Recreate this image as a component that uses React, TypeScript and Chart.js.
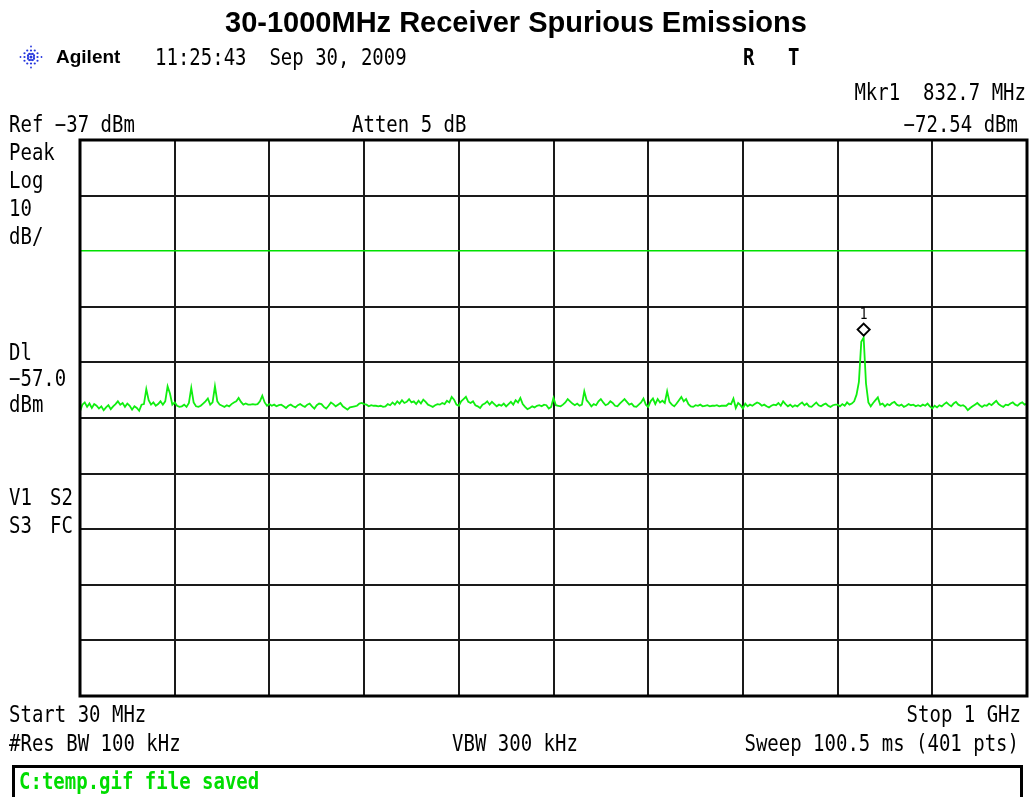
import React, { useEffect, useRef } from "react";
import { Chart, registerables } from "chart.js";

Chart.register(...registerables);

// ---- data ----
const START_MHZ = 30;
const STOP_MHZ = 1000;
const POINTS = 401;
const REF_LEVEL = -37;
const BOTTOM_LEVEL = -137;
const DISPLAY_LINE = -57;
const MARKER_FREQ = 832.7;
const MARKER_LEVEL = -72.54;

const X_TICKS = [30, 127, 224, 321, 418, 515, 612, 709, 806, 903, 1000];
const Y_TICKS = [-137, -127, -117, -107, -97, -87, -77, -67, -57, -47, -37];

const TRACE_DBM = [
  // division 1
  -85.8, -84.6, -84.2, -85.0, -84.4, -85.2, -84.5, -84.8, -85.3, -84.9,
  -85.6, -85.1, -84.7, -85.4, -84.9, -84.5, -84.0, -84.6, -84.3, -85.0,
  -84.4, -84.8, -85.5, -84.9, -85.2, -85.7, -84.6, -84.5, -81.8, -83.8,
  -84.6, -84.2, -84.8, -84.5, -84.0, -84.6, -84.0, -81.3, -82.6, -84.6,
  // division 2
  -84.2, -84.8, -85.0, -84.9, -84.6, -85.0, -84.3, -81.6, -84.2, -84.9,
  -85.0, -84.8, -84.4, -84.0, -83.5, -84.6, -84.2, -81.3, -84.0, -84.6,
  -84.8, -85.0, -84.7, -84.9, -84.5, -84.2, -84.0, -83.4, -84.1, -84.6,
  -84.4, -84.6, -84.6, -84.5, -84.6, -84.5, -84.0, -83.0, -84.2, -84.8,
  // division 3
  -84.5, -84.8, -84.6, -84.9, -84.7, -84.6, -84.9, -85.2, -84.8, -84.6,
  -84.9, -85.1, -84.7, -84.5, -84.8, -85.0, -84.6, -84.4, -84.9, -85.3,
  -84.7, -84.4, -84.5, -85.0, -85.3, -84.8, -84.2, -84.5, -84.9, -84.6,
  -84.3, -84.9, -85.2, -85.5, -85.1, -85.0, -84.9, -84.8, -84.4, -84.3,
  // division 4
  -84.5, -84.6, -84.9, -84.7, -84.8, -84.8, -84.9, -84.8, -85.0, -84.9,
  -84.5, -84.7, -84.2, -84.6, -84.0, -84.4, -83.8, -84.3, -84.1, -83.6,
  -84.2, -84.0, -84.5, -83.9, -84.4, -83.7, -84.1, -84.6, -84.8, -85.0,
  -84.7, -84.5, -84.6, -84.3, -84.5, -83.9, -84.2, -83.2, -83.7, -84.6,
  // division 5
  -84.8, -84.0, -83.6, -83.2, -84.1, -84.3, -84.0, -84.7, -84.9, -85.2,
  -84.6, -84.4, -84.0, -84.6, -84.1, -84.5, -84.9, -84.6, -84.8, -84.4,
  -84.9, -84.5, -84.1, -84.6, -83.8, -84.2, -83.4, -84.5, -85.0, -85.4,
  -85.2, -84.9, -85.1, -84.8, -84.7, -84.9, -84.6, -84.7, -85.3, -85.0,
  // division 6
  -83.4, -84.7, -84.8, -84.9, -84.6, -84.2, -83.6, -84.0, -84.4, -84.7,
  -84.4, -84.8, -84.6, -82.2, -83.8, -84.3, -84.9, -84.5, -84.7, -84.0,
  -83.6, -84.2, -84.7, -84.5, -84.0, -84.3, -84.8, -84.9, -84.4, -84.0,
  -83.6, -84.1, -84.6, -84.4, -84.9, -85.0, -84.6, -84.2, -83.5, -84.6,
  // division 7
  -85.0, -84.0, -83.5, -84.5, -83.6, -84.2, -83.9, -84.3, -82.2, -84.1,
  -84.6, -84.9, -84.4, -83.8, -83.2, -84.0, -83.6, -84.5, -84.9, -85.0,
  -84.7, -84.8, -84.6, -84.9, -84.8, -84.7, -84.9, -84.8, -84.8, -84.7,
  -84.9, -84.8, -84.8, -84.8, -84.4, -84.5, -83.5, -85.2, -84.3, -84.7,
  // division 8
  -85.3, -84.4, -84.9, -84.6, -84.8, -84.5, -84.2, -84.4, -84.8, -84.6,
  -84.9, -85.1, -84.8, -84.6, -84.7, -84.3, -84.8, -84.0, -84.5, -84.9,
  -84.6, -85.0, -84.7, -84.9, -84.5, -84.2, -84.7, -84.4, -84.9, -85.0,
  -84.6, -84.2, -84.7, -84.9, -84.6, -84.4, -84.8, -85.0, -84.7, -84.6,
  // division 9
  -84.6, -84.9, -84.5, -84.8, -84.2, -84.6, -84.4, -84.0, -82.8, -80.5,
  -73.3, -72.54, -80.8, -84.2, -84.9, -84.3, -83.8, -83.3, -84.6, -84.4,
  -84.9, -84.5, -84.7, -84.3, -84.1, -84.6, -84.8, -84.6, -85.0, -84.8,
  -84.5, -84.7, -84.6, -84.9, -84.7, -84.9, -84.6, -84.8, -84.4, -84.9,
  // division 10
  -85.3, -84.8, -85.1, -84.7, -84.9, -84.5, -84.2, -84.6, -84.9, -84.4,
  -84.1, -84.6, -84.8, -84.7, -85.0, -85.6, -85.2, -84.9, -84.6, -84.3,
  -84.7, -85.0, -84.7, -84.8, -84.4, -84.7, -84.3, -83.9, -84.5, -84.8,
  -85.0, -84.6, -84.7, -84.4, -84.2, -84.6, -84.8, -84.4, -84.2, -84.6,
  -84.4,
];

// sweep frequency grid (401 equally spaced points from start to stop)
const FREQS_MHZ = TRACE_DBM.map(
  (_, i) => START_MHZ + (i * (STOP_MHZ - START_MHZ)) / (POINTS - 1)
);

const TITLE = "30-1000MHz Receiver Spurious Emissions";
const BRAND = "Agilent";
const TIMESTAMP = "11:25:43  Sep 30, 2009";
const MARKER_LINE1 = "Mkr1  832.7 MHz";
const MARKER_LINE2 = "\u221272.54 dBm";
const REF_TEXT = "Ref \u221237 dBm";
const ATTEN_TEXT = "Atten 5 dB";
const LEFT_TOP = ["Peak", "Log", "10", "dB/"];
const LEFT_DL = ["Dl", "\u221257.0", "dBm"];
const LEFT_MID = [["V1", "S2"], ["S3", "FC"]];
const START_TEXT = "Start 30 MHz";
const STOP_TEXT = "Stop 1 GHz";
const RBW_TEXT = "#Res BW 100 kHz";
const VBW_TEXT = "VBW 300 kHz";
const SWEEP_TEXT = "Sweep 100.5 ms (401 pts)";
const STATUS_TEXT = "C:temp.gif file saved";

const MONO = '"DejaVu Sans Mono", "Liberation Mono", monospace';
const SANS = '"Liberation Sans", Arial, sans-serif';
const GREEN = "#10ee10";
const STRETCH = 1.17;

function txt(ctx: CanvasRenderingContext2D, t: string, x: number, y: number) {
  ctx.save();
  ctx.translate(x, y);
  ctx.scale(1, STRETCH);
  ctx.fillText(t, 0, 0);
  ctx.restore();
}

const overlayPlugin = {
  id: "saOverlay",
  beforeDraw(chart: any) {
    const { ctx, width, height } = chart;
    ctx.save();
    ctx.fillStyle = "#fff";
    ctx.fillRect(0, 0, width, height);
    ctx.restore();
  },
  afterDraw(chart: any) {
    const { ctx, chartArea: a, scales } = chart;
    ctx.save();
    ctx.textBaseline = "alphabetic";

    // frame around graticule
    ctx.strokeStyle = "#000";
    ctx.lineWidth = 3;
    ctx.strokeRect(a.left, a.top, a.right - a.left, a.bottom - a.top);

    // marker diamond and label
    const mx = scales.x.getPixelForValue(MARKER_FREQ);
    const my = scales.y.getPixelForValue(MARKER_LEVEL);
    const cy = my - 8;
    const h = 6;
    ctx.beginPath();
    ctx.moveTo(mx, cy - h);
    ctx.lineTo(mx + h, cy);
    ctx.lineTo(mx, cy + h);
    ctx.lineTo(mx - h, cy);
    ctx.closePath();
    ctx.fillStyle = "#fff";
    ctx.fill();
    ctx.lineWidth = 2;
    ctx.strokeStyle = "#000";
    ctx.stroke();
    ctx.fillStyle = "#000";
    ctx.font = `13px ${MONO}`;
    ctx.textAlign = "center";
    txt(ctx, "1", mx, cy - 11);

    // title
    ctx.font = `bold 29px ${SANS}`;
    ctx.textAlign = "center";
    ctx.fillText(TITLE, 516, 32);

    // agilent logo (starburst of dots)
    ctx.fillStyle = "#2233dd";
    const lx = 31;
    const ly = 57;
    for (let k = 0; k < 12; k++) {
      const ang = (k * Math.PI) / 6;
      const rays = k % 3 === 0 ? [3, 6.5, 10.5] : [3.5, 7.5];
      for (const r of rays) {
        ctx.beginPath();
        ctx.arc(lx + Math.cos(ang) * r, ly + Math.sin(ang) * r, r > 9 ? 0.9 : 1.1, 0, Math.PI * 2);
        ctx.fill();
      }
    }
    ctx.beginPath();
    ctx.arc(lx, ly, 1.5, 0, Math.PI * 2);
    ctx.fill();

    ctx.fillStyle = "#000";
    ctx.textAlign = "left";
    ctx.font = `bold 19px ${SANS}`;
    ctx.fillText(BRAND, 56, 63);

    ctx.font = `19px ${MONO}`;
    txt(ctx, TIMESTAMP, 155, 65);

    ctx.font = `bold 19px ${MONO}`;
    txt(ctx, "R", 743, 65);
    txt(ctx, "T", 788, 65);

    ctx.font = `19px ${MONO}`;
    ctx.textAlign = "right";
    txt(ctx, MARKER_LINE1, 1026, 100);
    txt(ctx, MARKER_LINE2, 1018, 132);
    ctx.textAlign = "left";
    txt(ctx, REF_TEXT, 9, 132);
    txt(ctx, ATTEN_TEXT, 352, 132);

    LEFT_TOP.forEach((t, i) => txt(ctx, t, 9, 160 + i * 28));
    LEFT_DL.forEach((t, i) => txt(ctx, t, 9, 360 + i * 26));
    LEFT_MID.forEach((row, i) => {
      txt(ctx, row[0], 9, 505 + i * 28);
      txt(ctx, row[1], 50, 505 + i * 28);
    });

    txt(ctx, START_TEXT, 9, 722);
    txt(ctx, RBW_TEXT, 9, 751);
    txt(ctx, VBW_TEXT, 452, 751);
    ctx.textAlign = "right";
    txt(ctx, STOP_TEXT, 1021, 722);
    txt(ctx, SWEEP_TEXT, 1019, 751);

    // status box
    ctx.lineWidth = 3;
    ctx.strokeStyle = "#000";
    ctx.strokeRect(13.5, 766.5, 1008, 40);
    ctx.textAlign = "left";
    ctx.fillStyle = "#00dd00";
    ctx.font = `bold 19px ${MONO}`;
    txt(ctx, STATUS_TEXT, 19, 789);

    ctx.restore();
  },
};

export default function App() {
  const canvasRef = useRef<HTMLCanvasElement | null>(null);

  useEffect(() => {
    const canvas = canvasRef.current;
    if (!canvas) return;
    const chart = new Chart(canvas, {
      type: "line",
      data: {
        datasets: [
          {
            label: "Trace 1",
            data: TRACE_DBM.map((v, i) => ({ x: FREQS_MHZ[i], y: v })),
            borderColor: GREEN,
            borderWidth: 1.8,
            pointRadius: 0,
            tension: 0,
            fill: false,
          },
        ],
      },
      options: {
        animation: false,
        responsive: true,
        maintainAspectRatio: false,
        layout: { padding: { left: 80, top: 140, right: 2, bottom: 101 } },
        plugins: {
          legend: { display: false },
          tooltip: { enabled: false },
          title: { display: false },
        },
        scales: {
          x: {
            type: "linear",
            min: START_MHZ,
            max: STOP_MHZ,
            afterBuildTicks: (s: any) => {
              s.ticks = X_TICKS.map((v) => ({ value: v }));
            },
            ticks: { display: false },
            grid: { color: "#1a1a1a", lineWidth: 2, drawTicks: false },
            border: { display: false },
          },
          y: {
            type: "linear",
            min: BOTTOM_LEVEL,
            max: REF_LEVEL,
            afterBuildTicks: (s: any) => {
              s.ticks = Y_TICKS.map((v) => ({ value: v }));
            },
            ticks: { display: false },
            grid: {
              color: (c: any) => (c.tick && c.tick.value === DISPLAY_LINE ? "#00e000" : "#1a1a1a"),
              lineWidth: (c: any) => (c.tick && c.tick.value === DISPLAY_LINE ? 1.5 : 2),
              drawTicks: false,
            },
            border: { display: false },
          },
        },
      },
      plugins: [overlayPlugin],
    });
    return () => chart.destroy();
  }, []);

  return (
    <div style={{ position: "absolute", left: 0, top: 0, width: 1029, height: 797, overflow: "hidden" }}>
      <canvas ref={canvasRef} />
    </div>
  );
}
